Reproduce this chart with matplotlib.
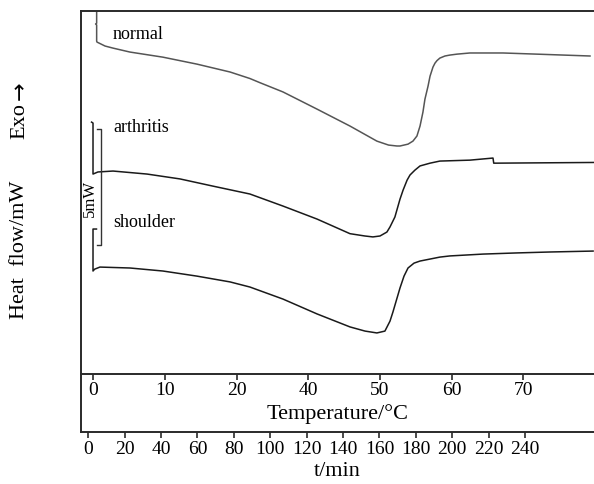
import matplotlib
matplotlib.use("Agg")
import matplotlib.pyplot as plt

plt.rcParams['font.family'] = ['Liberation Serif', 'DejaVu Serif']

# ---- data (x = time in min, y = heat flow in mW, arbitrary offset) ----
normal_t = [4.6, 4.6, 4.0, 4.6, 4.6, 4.8, 9.2, 13.6, 22.9, 41.0, 59.7, 77.9, 88.8, 94.3,
            107.0, 125.7, 143.8, 158.6, 165.0, 169.6, 171.3, 175.7, 178.4, 180.6,
            182.3, 183.9, 185.0, 186.7, 187.8, 189.4, 190.5, 191.6, 193.2, 196.0, 198.7,
            202.6, 209.7, 227.9, 246.5, 275.7]
normal_v = [15.9, 15.12, 15.09, 15.05, 14.35, 14.31, 14.14, 14.05, 13.88, 13.66, 13.36, 13.02, 12.74, 12.56,
            12.16, 11.42, 10.69, 10.04, 9.87, 9.83, 9.83, 9.91, 10.04, 10.26,
            10.69, 11.29, 11.85, 12.41, 12.84, 13.23, 13.40, 13.51, 13.62, 13.71, 13.75,
            13.79, 13.84, 13.84, 13.79, 13.71]

arthritis_t = [1.8, 2.6, 2.6, 5.3, 13.6, 32.3, 50.4, 68.5, 88.8, 107.0, 125.7,
               143.8, 152.0, 156.4, 160.3, 164.1, 165.8, 168.5, 171.3, 173.0, 175.2, 176.8,
               179.5, 182.3, 187.8, 193.2, 209.7, 222.4, 222.8, 224.0, 277.9]
arthritis_v = [10.86, 10.82, 8.62, 8.71, 8.75, 8.62, 8.41, 8.10, 7.76, 7.24, 6.68,
               6.05, 5.95, 5.91, 5.95, 6.12, 6.34, 6.77, 7.54, 7.93, 8.36, 8.58,
               8.79, 8.97, 9.09, 9.18, 9.22, 9.31, 9.09, 9.09, 9.12]

shoulder_t = [4.5, 2.6, 2.6, 3.5, 6.4, 22.9, 41.0, 59.7, 77.9, 88.8, 107.0, 125.7, 143.8,
              152.1, 158.6, 163.0, 165.8, 167.4, 171.3, 173.5, 175.7, 179.0, 182.3,
              193.2, 198.7, 216.9, 235.6, 253.7, 277.4]
shoulder_v = [6.25, 6.25, 4.44, 4.52, 4.61, 4.57, 4.44, 4.22, 3.97, 3.75, 3.23, 2.59, 2.03,
              1.85, 1.77, 1.85, 2.28, 2.67, 3.71, 4.22, 4.57, 4.78, 4.87,
              5.04, 5.09, 5.17, 5.22, 5.26, 5.30]

temp_tick_labels = ["0", "10", "20", "40", "50", "60", "70"]
temp_tick_times = [2.7, 42.1, 81.5, 120.9, 160.3, 199.7, 239.1]
time_ticks = [0, 20, 40, 60, 80, 100, 120, 140, 160, 180, 200, 220, 240]

scale_bar_t = 6.8
scale_bar_v = [5.56, 10.56]   # 5 mW

W, H = 594, 485
fig = plt.figure(figsize=(W / 100, H / 100), dpi=100)

def fx(px):
    return px / W

def fy(py):
    return (H - py) / H

x0, x1 = 81, 594
ytop, ybot, ytime = 12, 375, 433
xlim = (-4.0, 277.9)
ylim = (0.0, 15.65)

ax = fig.add_axes([fx(x0), fy(ybot), fx(x1) - fx(x0), fy(ytop) - fy(ybot)])
ax.set_xlim(*xlim)
ax.set_ylim(*ylim)
for s in ['left', 'top', 'bottom']:
    ax.spines[s].set_linewidth(1.4)
    ax.spines[s].set_color('#2a2a2a')
ax.spines['right'].set_visible(False)
ax.set_yticks([])
ax.set_xticks(temp_tick_times)
ax.set_xticklabels(temp_tick_labels)
ax.tick_params(axis='x', direction='out', length=4, width=1.2, labelsize=14, pad=1,
               color='#2a2a2a')
ax.set_xlabel("Temperature/°C", fontsize=16, labelpad=4)

ax.plot(normal_t, normal_v, color='#555555', lw=1.1)
ax.plot(arthritis_t, arthritis_v, color='#1a1a1a', lw=1.1)
ax.plot(shoulder_t, shoulder_v, color='#1a1a1a', lw=1.1)

# scale bar
ax.plot([4.8, scale_bar_t, scale_bar_t, 4.8],
        [scale_bar_v[1], scale_bar_v[1], scale_bar_v[0], scale_bar_v[0]],
        color='#333333', lw=1.0)
ax.text(1.0, (scale_bar_v[0] + scale_bar_v[1]) / 2 - 0.45, "5mW", rotation=90,
        ha='center', va='center', fontsize=12)

ax.text(13.6, 14.66, "normal", ha='left', va='center', fontsize=13)
ax.text(13.6, 10.65, "arthritis", ha='left', va='center', fontsize=13)
ax.text(13.6, 6.59, "shoulder", ha='left', va='center', fontsize=13)

# time axis
ax2 = fig.add_axes([fx(x0), fy(ytime), fx(x1) - fx(x0), fy(ybot) - fy(ytime)])
ax2.set_xlim(*xlim)
ax2.patch.set_alpha(0)
ax2.spines['top'].set_visible(False)
ax2.spines['right'].set_visible(False)
for s in ['left', 'bottom']:
    ax2.spines[s].set_linewidth(1.4)
    ax2.spines[s].set_color('#2a2a2a')
ax2.set_yticks([])
ax2.set_xticks(time_ticks)
ax2.tick_params(axis='x', direction='out', length=4, width=1.2, labelsize=14, pad=2,
                color='#2a2a2a')
ax2.set_xlabel("t/min", fontsize=16, labelpad=3)

fig.text(fx(20), fy(250), "Heat  flow/mW", rotation=90, ha='center', va='center', fontsize=16)
fig.text(fx(20), fy(121), "Exo", rotation=90, ha='center', va='center', fontsize=16)
fig.text(fx(20), fy(91), "\u2192", rotation=90, ha='center', va='center', fontsize=16,
         family='DejaVu Sans')

fig.savefig("out.png", dpi=100)
